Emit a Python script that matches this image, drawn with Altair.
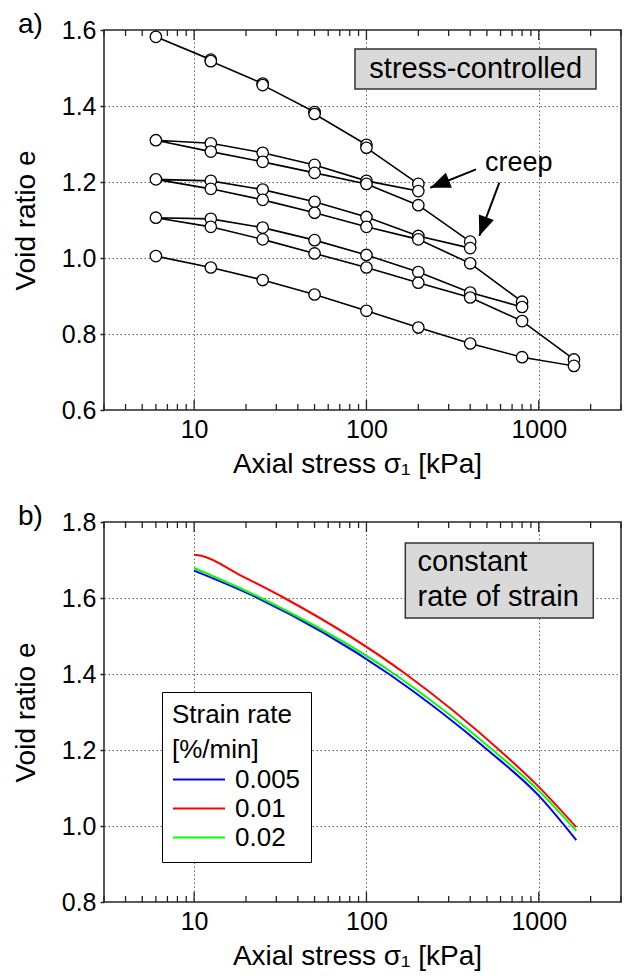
import altair as alt
import pandas as pd

FONT = "Liberation Sans"
W, H = 517, 380

# ---------------- panel a: stress-controlled test (one continuous load path) ----------------
sc_stress = [6, 12.5, 12.5, 25, 25, 50, 50, 100, 100, 200, 200,
             100, 50, 25, 12.5, 6,
             12.5, 25, 50, 100, 200, 400, 400,
             200, 100, 50, 25, 12.5, 6,
             12.5, 25, 50, 100, 200, 400, 800, 800,
             400, 200, 100, 50, 25, 12.5, 6,
             12.5, 25, 50, 100, 200, 400, 800, 1600, 1600,
             800, 400, 200, 100, 50, 25, 12.5, 6]
sc_void = [1.582, 1.522, 1.518, 1.459, 1.455, 1.384, 1.379, 1.298, 1.290, 1.195, 1.176,
           1.203, 1.245, 1.277, 1.302, 1.310,
           1.280, 1.253, 1.224, 1.195, 1.139, 1.043, 1.026,
           1.058, 1.108, 1.148, 1.180, 1.203, 1.207,
           1.182, 1.153, 1.119, 1.082, 1.049, 0.986, 0.885, 0.871,
           0.909, 0.963, 1.008, 1.047, 1.080, 1.103, 1.106,
           1.082, 1.049, 1.012, 0.975, 0.935, 0.896, 0.834, 0.733, 0.716,
           0.739, 0.775, 0.817, 0.861, 0.904, 0.942, 0.975, 1.005]
assert len(sc_stress) == len(sc_void)

# ---------------- panel b: constant rate of strain ----------------
crs_rates = ["0.005", "0.01", "0.02"]
crs_colors = ["#0000ff", "#ff0000", "#00ff00"]
crs_stress_0005 = [10, 23.4, 135, 505, 1000, 1650]
crs_e_0005 = [1.672, 1.600, 1.400, 1.200, 1.080, 0.963]
crs_stress_001 = [10, 11, 18.7, 33.4, 169, 590, 1000, 1650]
crs_e_001 = [1.714, 1.711, 1.659, 1.600, 1.400, 1.200, 1.103, 0.997]
crs_stress_002 = [10, 24.4, 145, 541, 1000, 1650]
crs_e_002 = [1.679, 1.600, 1.400, 1.200, 1.093, 0.987]

# ---------------- axes ----------------
x_domain = [3, 3000]
major_x = [10, 100, 1000]
minor_x = [3, 4, 5, 6, 7, 8, 9, 20, 30, 40, 50, 60, 70, 80, 90,
           200, 300, 400, 500, 600, 700, 800, 900, 2000, 3000]
ya_ticks = [0.6, 0.8, 1.0, 1.2, 1.4, 1.6]
yb_ticks = [0.8, 1.0, 1.2, 1.4, 1.6, 1.8]

# ---------------- annotations ----------------
ann_a_box = {"x": [85.8], "x2": [2148], "y": [1.550], "y2": [1.445]}
ann_a_text = {"x": [430.5], "y": [1.497], "t": ["stress-controlled"]}
creep_text = {"x": [487.6], "y": [1.229], "t": ["creep"]}
arrow_start_x = [432.3, 590.2]
arrow_start_y = [1.2334, 1.1982]
arrow_tip_x = [234.7, 451.7]
arrow_tip_y = [1.185, 1.0579]
arrow_angle = [248.1, 200.6]
ann_b_box = {"x": [168.1], "x2": [2072], "y": [1.7447], "y2": [1.5474]}
ann_b_text = {"x": [198.1, 198.1], "y": [1.672, 1.578], "t": ["constant", "rate of strain"]}

xscale = alt.Scale(type="log", domain=x_domain, nice=False)
ya_scale = alt.Scale(domain=[0.6, 1.6], nice=False, zero=False)
yb_scale = alt.Scale(domain=[0.8, 1.8], nice=False, zero=False)

X_AXIS = alt.Axis(values=major_x, format="d", title="Axial stress σ₁ [kPa]",
                  grid=True, ticks=False, domain=False, labelPadding=7,
                  titleX=253, titleY=62, titleAlign="center", titleBaseline="alphabetic")


def y_axis(vals):
    return alt.Axis(values=vals, format=".1f", title="Void ratio e", grid=True,
                    ticks=True, tickSize=4, domain=False, labelPadding=4,
                    titleX=-70, titleY=190, titleAngle=270, titleAlign="center",
                    titleBaseline="alphabetic")


def xenc(field, yscale=None):
    return alt.X(field, scale=xscale, axis=X_AXIS)


def make_panel(ys, yvals, main_layers, extra):
    Y_AXIS = y_axis(yvals)

    def X(f):
        return alt.X(f, scale=xscale, axis=X_AXIS)

    def Y(f):
        return alt.Y(f, scale=ys, axis=Y_AXIS)

    layers = [m(X, Y) for m in main_layers]
    # inward frame ticks on bottom and top
    for vals, ln in ((major_x, 10), (minor_x, 6)):
        df = pd.DataFrame({"stress": vals})
        base = alt.Chart(df).mark_rule(color="#222", strokeWidth=1.3)
        layers.append(base.encode(x=X("stress:Q"), y=alt.value(H), y2=alt.value(H - ln)))
        layers.append(base.encode(x=X("stress:Q"), y=alt.value(0), y2=alt.value(ln)))
    layers += [m(X, Y) for m in extra]
    return alt.layer(*layers).properties(width=W, height=H)


def panel_label(txt):
    def f(X, Y):
        return alt.Chart(pd.DataFrame({"t": [txt]})).mark_text(
            font=FONT, fontSize=28, align="left", baseline="alphabetic", color="black"
        ).encode(x=alt.value(-86), y=alt.value(2.5), text="t:N")
    return f


def box(data):
    def f(X, Y):
        return alt.Chart(pd.DataFrame(data)).mark_rect(
            fill="#d9d9d9", stroke="#333", strokeWidth=1.5
        ).encode(x=X("x:Q"), x2="x2:Q", y=Y("y:Q"), y2="y2:Q")
    return f


def texts(data, size, align, baseline):
    def f(X, Y):
        return alt.Chart(pd.DataFrame(data)).mark_text(
            font=FONT, fontSize=size, align=align, baseline=baseline, color="black"
        ).encode(x=X("x:Q"), y=Y("y:Q"), text="t:N")
    return f


# ---------------- panel a ----------------
df_a = pd.DataFrame({"stress": sc_stress, "e": sc_void, "idx": list(range(len(sc_stress)))})
df_arr = pd.DataFrame({"x": arrow_start_x, "y": arrow_start_y,
                       "x2": arrow_tip_x, "y2": arrow_tip_y, "angle": arrow_angle})


def line_a(X, Y):
    return alt.Chart(df_a).mark_line(color="black", strokeWidth=1.6).encode(
        x=X("stress:Q"), y=Y("e:Q"), order="idx:Q")


def pts_a(X, Y):
    return alt.Chart(df_a).mark_point(
        shape="circle", filled=True, fill="white", stroke="black", strokeWidth=1.3,
        size=130, opacity=1).encode(x=X("stress:Q"), y=Y("e:Q"), order="idx:Q")


def arrow_lines(X, Y):
    return alt.Chart(df_arr).mark_rule(color="black", strokeWidth=2).encode(
        x=X("x:Q"), x2="x2:Q", y=Y("y:Q"), y2="y2:Q")


def arrow_heads(X, Y):
    return alt.Chart(df_arr).mark_point(
        shape="M0,0L-0.8,2L0.8,2Z", filled=True, color="black", size=400, opacity=1
    ).encode(x=X("x2:Q"), y=Y("y2:Q"), angle=alt.Angle("angle:Q", scale=None))


panel_a = make_panel(
    ya_scale, ya_ticks, [line_a],
    [pts_a, box(ann_a_box), texts(ann_a_text, 29, "center", "middle"),
     texts(creep_text, 27, "left", "alphabetic"), arrow_lines, arrow_heads,
     panel_label("a)")])

# ---------------- panel b ----------------
rows = []
for rate, xs, es in zip(crs_rates, [crs_stress_0005, crs_stress_001, crs_stress_002],
                        [crs_e_0005, crs_e_001, crs_e_002]):
    for i, (s, e) in enumerate(zip(xs, es)):
        rows.append({"stress": s, "e": e, "rate": rate, "idx": i})
df_b = pd.DataFrame(rows)


def line_b(X, Y):
    return alt.Chart(df_b).mark_line(strokeWidth=2, interpolate="monotone").encode(
        x=X("stress:Q"), y=Y("e:Q"),
        color=alt.Color("rate:N", sort=crs_rates,
                        scale=alt.Scale(domain=crs_rates, range=crs_colors),
                        legend=alt.Legend(
                            title=["Strain rate", "[%/min]"], orient="none",
                            legendX=58, legendY=170, symbolType="stroke",
                            symbolSize=2704, symbolStrokeWidth=2, clipHeight=29,
                            labelFontSize=26, titleFontSize=26, titleFontWeight="normal",
                            labelFont=FONT, titleFont=FONT, labelColor="black",
                            titleColor="black", padding=10, strokeColor="black",
                            fillColor="white", labelOffset=9, titleLineHeight=35,
                            titlePadding=2, rowPadding=0, titleLimit=300)),
        order="idx:Q")


panel_b = make_panel(
    yb_scale, yb_ticks, [line_b],
    [box(ann_b_box), texts(ann_b_text, 29, "left", "alphabetic"), panel_label("b)")])

chart = alt.vconcat(panel_a, panel_b, spacing=22).resolve_scale(
    color="independent"
).resolve_legend(color="independent").properties(
    padding={"left": 11, "top": 9, "right": 5, "bottom": 5},
    background="white",
).configure_view(
    stroke="#222", strokeWidth=1.5
).configure_axis(
    labelFont=FONT, titleFont=FONT, labelFontSize=25, titleFontSize=28,
    titleFontWeight="normal", labelColor="black", titleColor="black",
    gridColor="#666", gridDash=[1.5, 2.5], gridWidth=1,
    tickColor="#222", tickWidth=1.5,
)

chart.save("out.html", embed_options={"renderer": "svg", "actions": False})
